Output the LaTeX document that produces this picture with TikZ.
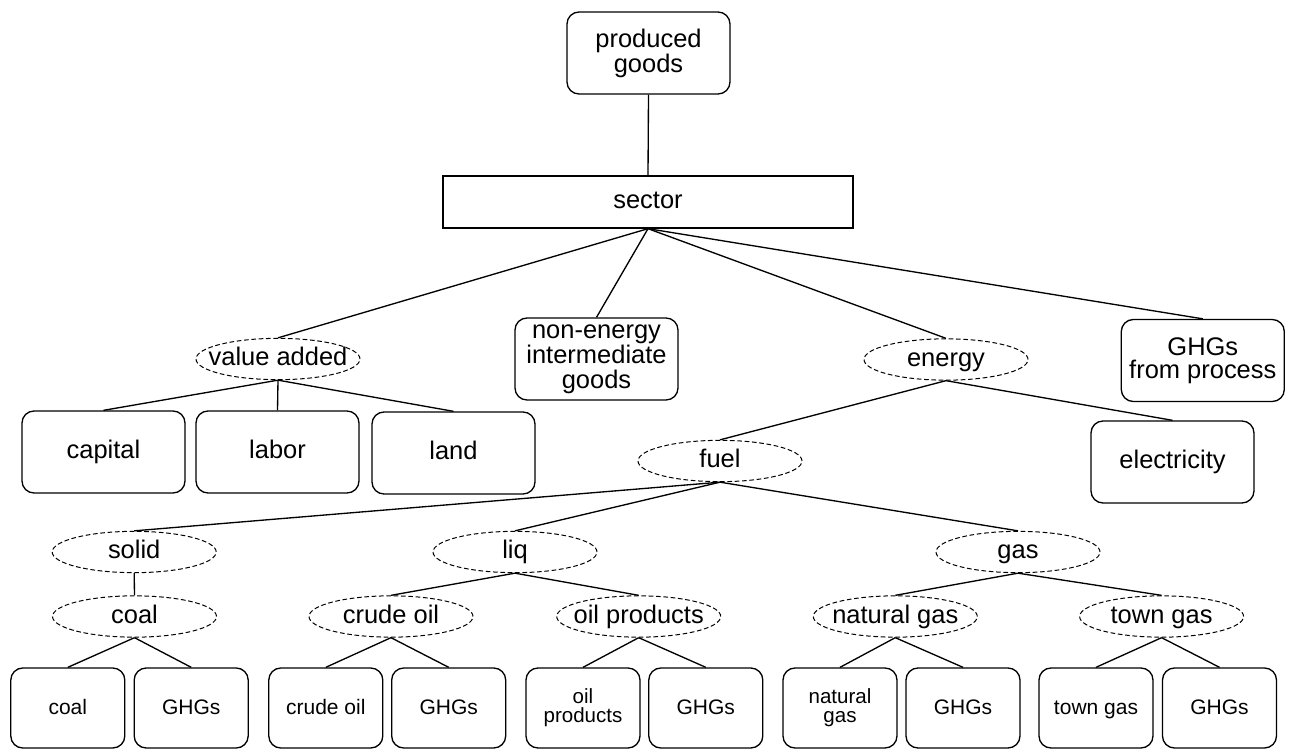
\documentclass[tikz,border=0pt]{standalone}
\usepackage{fontspec}
\setmainfont{Liberation Sans}
\usetikzlibrary{shapes.geometric}
\newcommand\fbig{\fontsize{19.1pt}{18.75pt}\selectfont}
\newcommand\fsml{\fontsize{15.75pt}{14.25pt}\selectfont}
\newcommand\fsmt{\fontsize{15.4pt}{14.25pt}\selectfont}
\begin{document}
\begin{tikzpicture}[x=0.75pt,y=-0.75pt,
  line width=1pt,
  bigbox/.style={draw, rounded corners=9pt, minimum width=122.25pt, minimum height=61.5pt, inner sep=0pt, align=center, font=\fbig},
  sline/.style={text height=14pt, text depth=3.9pt},
  secbox/.style={draw, minimum width=307.5pt, minimum height=39pt, inner sep=0pt, font=\fbig, text height=14pt, text depth=3.9pt},
  ell/.style={draw, ellipse, line width=0.75pt, dash pattern=on 3.5pt off 2pt, minimum width=123pt, minimum height=31pt, inner xsep=-12pt, inner ysep=0pt, font=\fbig, text height=14pt, text depth=3.9pt},
  smbox/.style={draw, rounded corners=9pt, minimum width=85.5pt, minimum height=60pt, inner sep=0pt, align=center, font=\fsml},
  ssline/.style={text height=12pt, text depth=2.5pt},
  twoline/.style={font=\fsmt},
  link/.style={line width=1pt}
]
\useasboundingbox (0,0) rectangle (1292,749);

% top
\node[bigbox] (pg) at (648.5,53) {produced\\goods};
\node[secbox] (sec) at (648,202) {sector};

% level 2
\node[ell] (va) at (278,359) {value added};
\node[bigbox] (ne) at (596.5,359) {non-energy\\intermediate\\goods};
\node[ell] (en) at (946,359.5) {energy};
\node[bigbox, font=\fontsize{19.1pt}{17.5pt}\selectfont] (gp) at (1202.8,360.5) {GHGs\\from process};

% level 3
\node[bigbox, sline] (cap) at (103.5,452) {capital};
\node[bigbox, sline] (lab) at (277.5,452) {labor};
\node[bigbox, sline] (lan) at (453.5,453) {land};
\node[ell] (fu) at (720,461) {fuel};
\node[bigbox, sline] (el) at (1172.5,462) {electricity};

% level 4
\node[ell] (so) at (134.2,552) {solid};
\node[ell] (lq) at (515,552) {liq};
\node[ell] (ga) at (1018,552) {gas};

% level 5
\node[ell] (co) at (134.5,616.5) {coal};
\node[ell] (cr) at (391,616.5) {crude oil};
\node[ell] (op) at (638.7,616.5) {oil products};
\node[ell] (ng) at (895.3,616.5) {natural gas};
\node[ell] (tg) at (1161.6,616.5) {town gas};

% bottom boxes
\node[smbox, ssline] (b1) at (67.8,708) {coal};
\node[smbox, ssline] (b2) at (191.2,708) {GHGs};
\node[smbox, ssline] (b3) at (325.8,708) {crude oil};
\node[smbox, ssline] (b4) at (448.7,708) {GHGs};
\node[smbox, twoline] (b5) at (583,708) {oil\\products};
\node[smbox, ssline] (b6) at (705.8,708) {GHGs};
\node[smbox, twoline] (b7) at (840,708) {natural\\gas};
\node[smbox, ssline] (b8) at (963,708) {GHGs};
\node[smbox, ssline] (b9) at (1096,708) {town gas};
\node[smbox, ssline] (b10) at (1219.5,708) {GHGs};

% connectors
\draw[link] (pg.south) -- (sec.north);
\draw[link] (sec.south) -- (va.north);
\draw[link] (sec.south) -- (ne.north);
\draw[link] (sec.south) -- (en.north);
\draw[link] (sec.south) -- (gp.north);
\draw[link] (va.south) -- (cap.north);
\draw[link] (va.south) -- (lab.north);
\draw[link] (va.south) -- (lan.north);
\draw[link] (en.south) -- (fu.north);
\draw[link] (en.south) -- (el.north);
\draw[link] (fu.south) -- (so.north);
\draw[link] (fu.south) -- (lq.north);
\draw[link] (fu.south) -- (ga.north);
\draw[link] (so.south) -- (co.north);
\draw[link] (lq.south) -- (cr.north);
\draw[link] (lq.south) -- (op.north);
\draw[link] (ga.south) -- (ng.north);
\draw[link] (ga.south) -- (tg.north);
\draw[link] (co.south) -- (b1.north);
\draw[link] (co.south) -- (b2.north);
\draw[link] (cr.south) -- (b3.north);
\draw[link] (cr.south) -- (b4.north);
\draw[link] (op.south) -- (b5.north);
\draw[link] (op.south) -- (b6.north);
\draw[link] (ng.south) -- (b7.north);
\draw[link] (ng.south) -- (b8.north);
\draw[link] (tg.south) -- (b9.north);
\draw[link] (tg.south) -- (b10.north);
\end{tikzpicture}
\end{document}
